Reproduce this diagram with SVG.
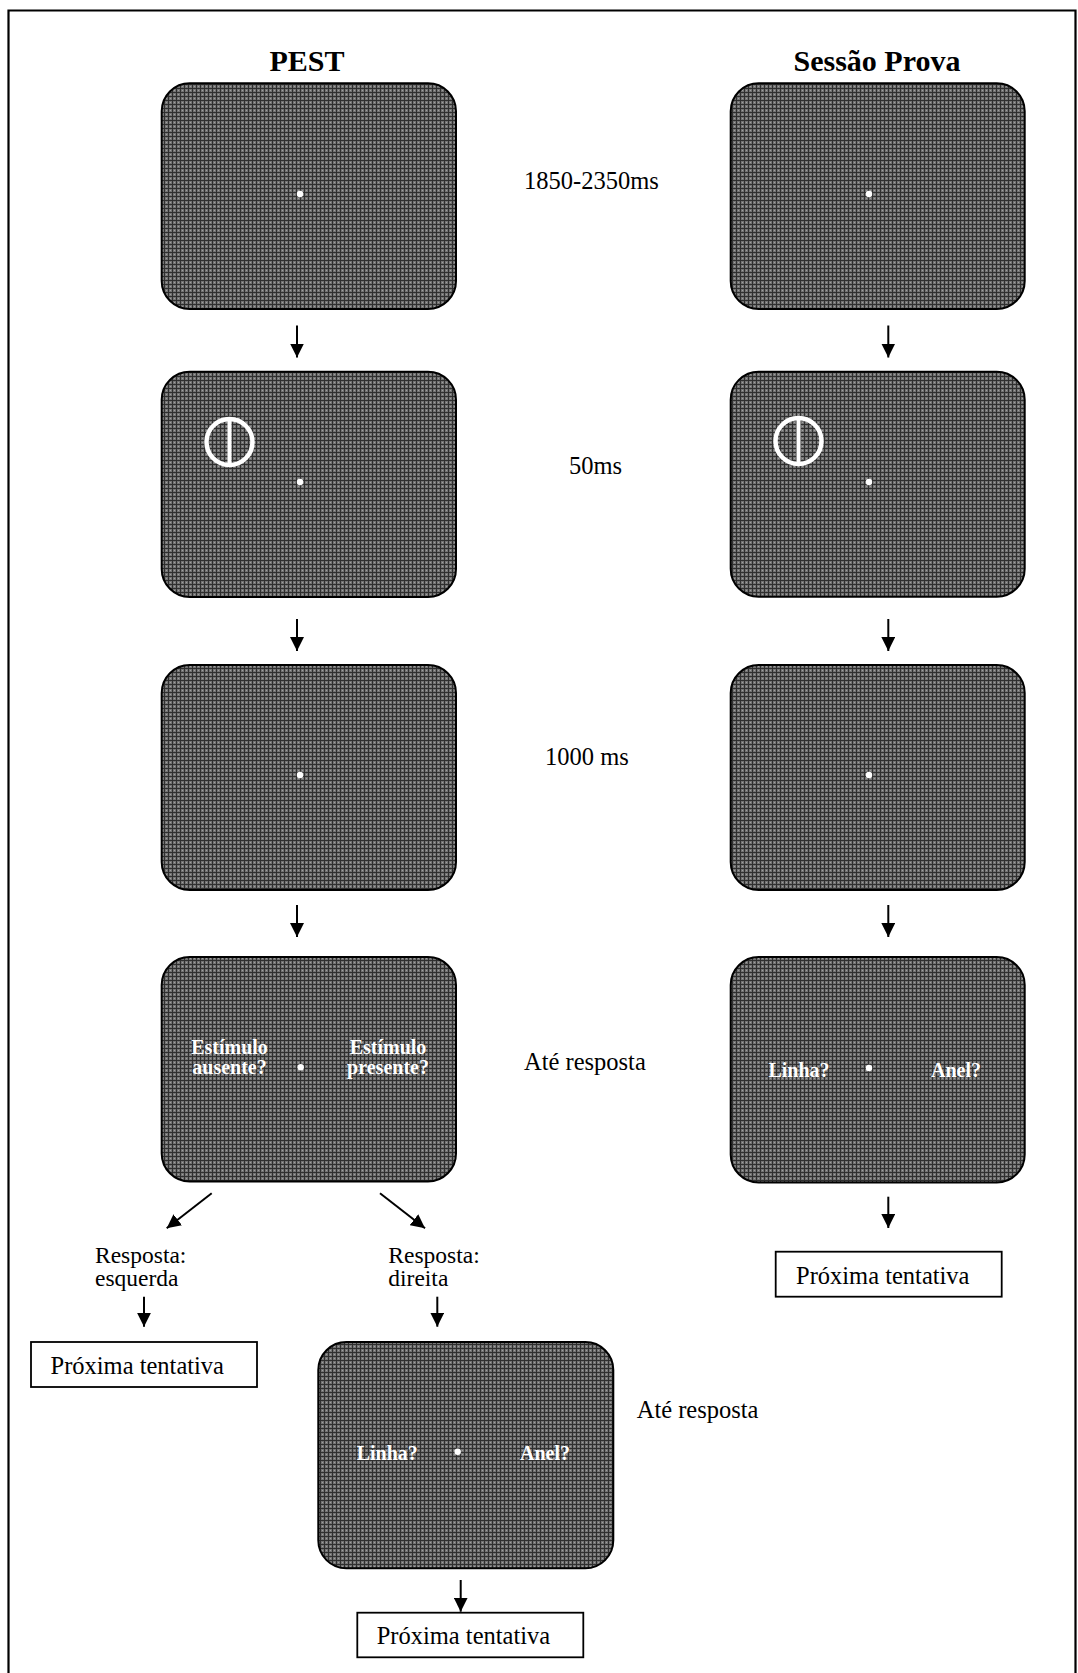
<svg xmlns="http://www.w3.org/2000/svg" width="1078" height="1673" viewBox="0 0 1078 1673">
<style>
.scr{fill:url(#tex);stroke:#000;stroke-width:2}
.dot{fill:#fff}
.ring{fill:none;stroke:#fff;stroke-width:4.5}
.bar{stroke:#fff;stroke-width:4}
.t{font-family:"Liberation Serif","Times New Roman",serif;font-size:24.5px;fill:#000}
.r{font-size:23.5px}
.h{font-family:"Liberation Serif","Times New Roman",serif;font-size:30px;font-weight:bold;fill:#000;text-anchor:middle}
.w{font-family:"Liberation Serif","Times New Roman",serif;font-size:20px;font-weight:bold;fill:#fff;text-anchor:middle}
.box{fill:#fff;stroke:#000;stroke-width:1.8}
.c{stroke:#000;stroke-width:2;fill:none}
</style>
<defs>
<pattern id="tex" width="4" height="4" patternUnits="userSpaceOnUse">
<rect width="4" height="4" fill="#737373"/>
<rect width="4" height="1" fill="#2f2f2f"/>
<rect width="1" height="4" fill="#2f2f2f"/>
<rect x="2" y="2" width="1" height="1" fill="#a0a0a0"/>
</pattern>
<marker id="ah" viewBox="0 0 14 14" refX="14" refY="7" markerWidth="14" markerHeight="14" markerUnits="userSpaceOnUse" orient="auto">
<path d="M0,0 L14,7 L0,14 Z" fill="#000"/>
</marker>
</defs>
<rect width="1078" height="1673" fill="#fff"/>
<path d="M8.5,1673 V10.5 H1075.5 V1673" fill="none" stroke="#000" stroke-width="2.2"/>

<text class="h" x="307" y="70.7">PEST</text>
<text class="h" x="877" y="70.7">Sessão Prova</text>

<g id="labels">
<text class="t" x="524" y="189.3">1850-2350ms</text>
<text class="t" x="569" y="474">50ms</text>
<text class="t" x="545" y="765">1000 ms</text>
<text class="t" x="524" y="1069.5">Até resposta</text>
<text class="t" x="636.7" y="1418">Até resposta</text>
<text class="t r" x="95" y="1263">Resposta:</text>
<text class="t r" x="95" y="1286">esquerda</text>
<text class="t r" x="388.3" y="1263">Resposta:</text>
<text class="t r" x="388.3" y="1286">direita</text>
</g>

<g id="pest1"><rect class="scr" x="161.7" y="83.3" width="294.3" height="225.7" rx="28"/><circle class="dot" cx="300" cy="194" r="3.2"/></g>
<g id="pest2"><rect class="scr" x="161.7" y="371.7" width="294.3" height="225.3" rx="28"/><circle class="ring" cx="229.5" cy="442" r="23"/><line class="bar" x1="229.5" y1="419" x2="229.5" y2="465"/><circle class="dot" cx="300" cy="482" r="3.2"/></g>
<g id="pest3"><rect class="scr" x="161.7" y="665" width="294.3" height="225" rx="28"/><circle class="dot" cx="300" cy="775" r="3.2"/></g>
<g id="pest4"><rect class="scr" x="161.7" y="957" width="294.3" height="224.5" rx="28"/><circle class="dot" cx="300.7" cy="1067.3" r="3.2"/>
<text class="w" x="229.5" y="1054">Estímulo</text><text class="w" x="229.5" y="1073.5">ausente?</text>
<text class="w" x="388" y="1054">Estímulo</text><text class="w" x="388" y="1073.5">presente?</text></g>
<g id="pest5"><rect class="scr" x="318.3" y="1342" width="295" height="226.3" rx="28"/><circle class="dot" cx="457.7" cy="1451.7" r="3.2"/>
<text class="w" x="387.3" y="1460">Linha?</text><text class="w" x="545" y="1460">Anel?</text></g>

<g id="prova1"><rect class="scr" x="730.7" y="83.3" width="294" height="225.7" rx="28"/><circle class="dot" cx="869" cy="194" r="3.2"/></g>
<g id="prova2"><rect class="scr" x="730.7" y="371.7" width="294" height="225" rx="28"/><circle class="ring" cx="798.5" cy="441" r="23"/><line class="bar" x1="798.5" y1="418" x2="798.5" y2="464"/><circle class="dot" cx="869" cy="482" r="3.2"/></g>
<g id="prova3"><rect class="scr" x="730.7" y="665" width="294" height="225" rx="28"/><circle class="dot" cx="869" cy="775" r="3.2"/></g>
<g id="prova4"><rect class="scr" x="730.7" y="957" width="294" height="225.5" rx="28"/><circle class="dot" cx="869" cy="1068" r="3.2"/>
<text class="w" x="799" y="1076.7">Linha?</text><text class="w" x="956" y="1076.7">Anel?</text></g>

<g id="next-left"><rect class="box" x="31" y="1342" width="226" height="45"/><text class="t" x="50.5" y="1374">Próxima tentativa</text></g>
<g id="next-right"><rect class="box" x="775.7" y="1251.7" width="226" height="45"/><text class="t" x="796" y="1284">Próxima tentativa</text></g>
<g id="next-bottom"><rect class="box" x="357.3" y="1612.7" width="226" height="44.6"/><text class="t" x="376.7" y="1644">Próxima tentativa</text></g>

<g id="connectors">
<line class="c" x1="297" y1="325.5" x2="297" y2="357.5" marker-end="url(#ah)"/>
<line class="c" x1="297" y1="619" x2="297" y2="651" marker-end="url(#ah)"/>
<line class="c" x1="297" y1="905" x2="297" y2="937" marker-end="url(#ah)"/>
<line class="c" x1="888.3" y1="325.5" x2="888.3" y2="357.5" marker-end="url(#ah)"/>
<line class="c" x1="888.3" y1="619" x2="888.3" y2="651" marker-end="url(#ah)"/>
<line class="c" x1="888.3" y1="905" x2="888.3" y2="937" marker-end="url(#ah)"/>
<line class="c" x1="888.3" y1="1196.7" x2="888.3" y2="1228" marker-end="url(#ah)"/>
<line class="c" x1="211.7" y1="1193.3" x2="166.7" y2="1228.3" marker-end="url(#ah)"/>
<line class="c" x1="380" y1="1193.3" x2="425" y2="1228.3" marker-end="url(#ah)"/>
<line class="c" x1="144" y1="1296.7" x2="144" y2="1326.7" marker-end="url(#ah)"/>
<line class="c" x1="437.3" y1="1296.7" x2="437.3" y2="1326.7" marker-end="url(#ah)"/>
<line class="c" x1="460.7" y1="1580" x2="460.7" y2="1611.7" marker-end="url(#ah)"/>
</g>
</svg>
